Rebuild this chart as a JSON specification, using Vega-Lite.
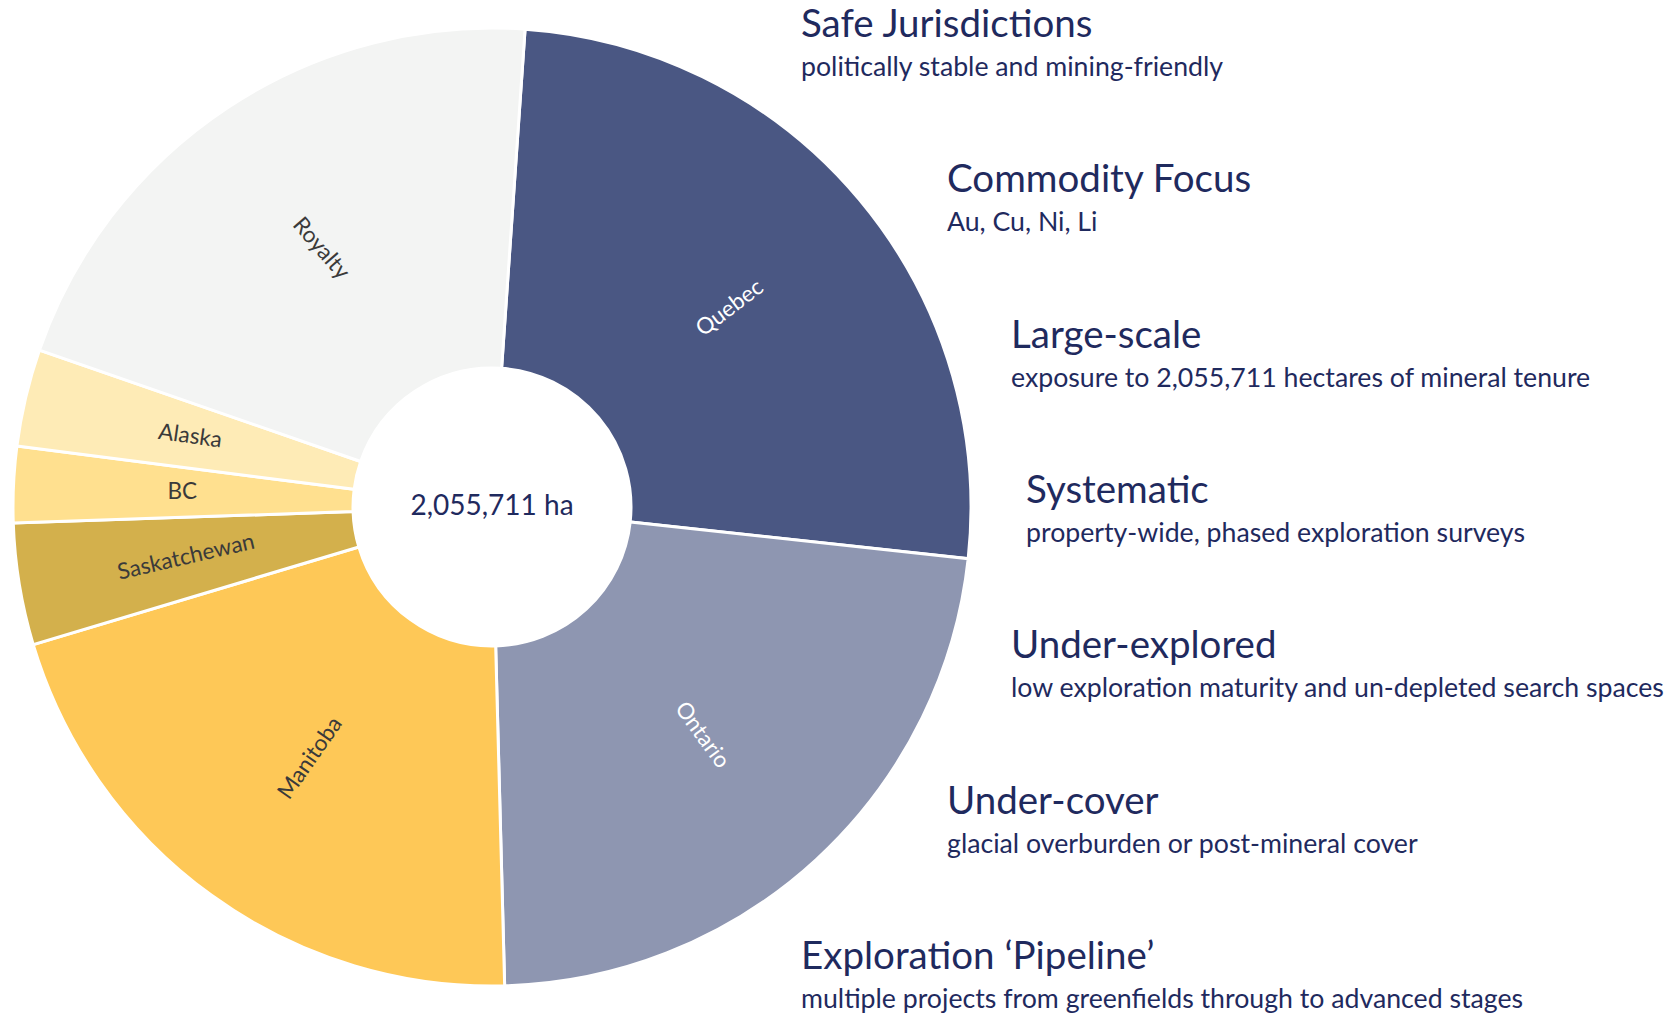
{
  "$schema": "https://vega.github.io/schema/vega-lite/v6.json",
  "width": 984,
  "height": 1014,
  "autosize": {"type": "none"},
  "padding": {"left": 0, "top": 0, "right": 696, "bottom": 1},
  "background": "white",
  "config": {"view": {"stroke": null}, "font": "Lato"},
  "datasets": {
    "tenure": [
      {"region": "Quebec", "ha": 526700},
      {"region": "Ontario", "ha": 469900},
      {"region": "Manitoba", "ha": 427200},
      {"region": "Saskatchewan", "ha": 84500},
      {"region": "BC", "ha": 52600},
      {"region": "Alaska", "ha": 67400},
      {"region": "Royalty", "ha": 427411}
    ],
    "points": [
      {"heading": "Safe Jurisdictions", "detail": "politically stable and mining-friendly"},
      {"heading": "Commodity Focus", "detail": "Au, Cu, Ni, Li"},
      {"heading": "Large-scale", "detail": "exposure to 2,055,711 hectares of mineral tenure"},
      {"heading": "Systematic", "detail": "property-wide, phased exploration surveys"},
      {"heading": "Under-explored", "detail": "low exploration maturity and un-depleted search spaces"},
      {"heading": "Under-cover", "detail": "glacial overburden or post-mineral cover"},
      {"heading": "Exploration \u2018Pipeline\u2019", "detail": "multiple projects from greenfields through to advanced stages"}
    ],
    "total": [{"label": "2,055,711 ha"}]
  },
  "layer": [
    {
      "data": {"name": "tenure"},
      "transform": [{"window": [{"op": "row_number", "as": "idx"}]}],
      "mark": {"type": "arc", "outerRadius": 479, "innerRadius": 139, "stroke": "#ffffff", "strokeWidth": 3},
      "encoding": {
        "theta": {"field": "ha", "type": "quantitative", "stack": true, "scale": {"range": [0.0691, 6.3523]}},
        "order": {"field": "idx", "type": "quantitative"},
        "color": {
          "field": "region", "type": "nominal", "legend": null,
          "scale": {
            "domain": ["Quebec", "Ontario", "Manitoba", "Saskatchewan", "BC", "Alaska", "Royalty"],
            "range": ["#4A5783", "#8E96B1", "#FEC857", "#D3B04C", "#FFE08F", "#FEEBB6", "#F3F4F3"]
          }
        }
      }
    },
    {
      "data": {"name": "tenure"},
      "transform": [{"window": [{"op": "row_number", "as": "idx"}]}],
      "mark": {"type": "text", "radius": 310, "fontSize": 22.5, "align": "center", "baseline": "middle"},
      "encoding": {
        "theta": {"field": "ha", "type": "quantitative", "stack": true, "scale": {"range": [0.0691, 6.3523]}},
        "order": {"field": "idx", "type": "quantitative"},
        "text": {"field": "region"},
        "angle": {
          "condition": [
            {"test": "datum.region === 'Quebec'", "value": -37},
            {"test": "datum.region === 'Ontario'", "value": 54},
            {"test": "datum.region === 'Manitoba'", "value": -55},
            {"test": "datum.region === 'Saskatchewan'", "value": -13},
            {"test": "datum.region === 'Alaska'", "value": 8},
            {"test": "datum.region === 'Royalty'", "value": 49}
          ],
          "value": 0
        },
        "color": {
          "condition": {"test": "datum.region === 'Quebec' || datum.region === 'Ontario'", "value": "#ffffff"},
          "value": "#3a3a3a"
        }
      }
    },
    {
      "data": {"name": "total"},
      "mark": {"type": "text", "fontSize": 28, "color": "#1F2A5E", "align": "center", "baseline": "middle", "dy": 0},
      "encoding": {"text": {"field": "label"}}
    },
    {
      "data": {"name": "points"},
      "transform": [{"window": [{"op": "row_number", "as": "idx"}]}],
      "mark": {"type": "text", "align": "left", "baseline": "alphabetic", "fontSize": 38.5, "color": "#1F2A5E"},
      "encoding": {
        "x": {"field": "idx", "type": "quantitative", "axis": null, "scale": {"domain": [1, 2, 3, 4, 5, 6, 7], "range": [801, 947, 1011, 1026, 1011, 947, 801], "nice": false, "zero": false}},
        "y": {"field": "idx", "type": "quantitative", "axis": null, "scale": {"domain": [1, 7], "range": [37, 969], "nice": false, "zero": false}},
        "text": {"field": "heading"}
      }
    },
    {
      "data": {"name": "points"},
      "transform": [{"window": [{"op": "row_number", "as": "idx"}]}],
      "mark": {"type": "text", "align": "left", "baseline": "alphabetic", "fontSize": 26.7, "color": "#1F2A5E", "dy": 39},
      "encoding": {
        "x": {"field": "idx", "type": "quantitative", "axis": null, "scale": {"domain": [1, 2, 3, 4, 5, 6, 7], "range": [801, 947, 1011, 1026, 1011, 947, 801], "nice": false, "zero": false}},
        "y": {"field": "idx", "type": "quantitative", "axis": null, "scale": {"domain": [1, 7], "range": [37, 969], "nice": false, "zero": false}},
        "text": {"field": "detail"}
      }
    }
  ]
}
